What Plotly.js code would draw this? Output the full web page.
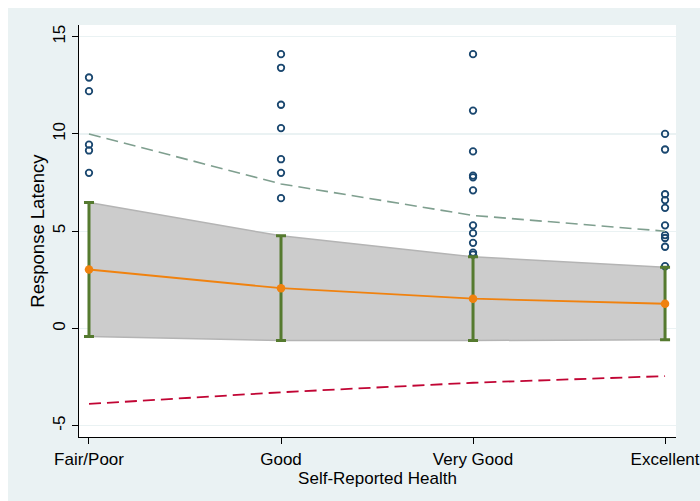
<!DOCTYPE html>
<html>
<head>
<meta charset="utf-8">
<script src="https://cdn.plot.ly/plotly-3.0.1.min.js"></script>
<style>
html,body{margin:0;padding:0;background:#ffffff;width:700px;height:501px;overflow:hidden;}
#chart{position:absolute;left:8px;top:8px;width:692px;height:493px;}
</style>
</head>
<body>
<div id="chart"></div>
<script>
var categories = ["Fair/Poor", "Good", "Very Good", "Excellent"];
var catPos = [1, 2, 3, 4];
var yTickVals = [-5, 0, 5, 10, 15];
var yTickText = ["-5", "0", "5", "10", "15"];

// observed response latencies per category
var obsFair = [12.9, 12.2, 9.45, 9.15, 8.0];
var obsGood = [14.1, 13.4, 11.5, 10.3, 8.7, 8.0, 6.7];
var obsVeryGood = [14.1, 11.2, 9.1, 7.86, 7.77, 7.1, 5.3, 4.9, 4.4, 3.9, 3.8];
var obsExcellent = [10.0, 9.2, 6.9, 6.6, 6.2, 5.3, 4.8, 4.65, 4.2, 3.2];

// predicted mean and confidence interval
var predMean = [3.03, 2.07, 1.53, 1.27];
var ciUpper = [6.48, 4.76, 3.68, 3.15];
var ciLower = [-0.41, -0.62, -0.62, -0.58];

// prediction bounds
var upperBound = [10.0, 7.43, 5.81, 5.0];
var lowerBound = [-3.88, -3.28, -2.79, -2.45];

var obsGroups = [obsFair, obsGood, obsVeryGood, obsExcellent];
var obsX = [], obsY = [];
obsGroups.forEach(function(g, i){
  g.forEach(function(v){ obsX.push(catPos[i]); obsY.push(v); });
});

var errPlus = ciUpper.map(function(u, i){ return u - predMean[i]; });
var errMinus = ciLower.map(function(l, i){ return predMean[i] - l; });

var traces = [
  {x: catPos, y: ciLower, mode: 'lines', line: {color: '#b4b4b4', width: 1.5}, hoverinfo: 'skip', showlegend: false},
  {x: catPos, y: ciUpper, mode: 'lines', fill: 'tonexty', fillcolor: '#cccccc', line: {color: '#b4b4b4', width: 1.5}, hoverinfo: 'skip', showlegend: false},
  {x: obsX, y: obsY, mode: 'markers', marker: {symbol: 'circle-open', size: 6.5, color: '#1a476f', line: {width: 1.8, color: '#1a476f'}}, showlegend: false},
  {x: catPos, y: upperBound, mode: 'lines', line: {color: '#7f9f8f', width: 1.6, dash: '12px,6px'}, showlegend: false},
  {x: catPos, y: lowerBound, mode: 'lines', line: {color: '#c10534', width: 1.8, dash: '12px,6px'}, showlegend: false},
  {x: catPos, y: predMean, mode: 'markers', marker: {size: 1, color: 'rgba(0,0,0,0)'},
   error_y: {type: 'data', symmetric: false, array: errPlus, arrayminus: errMinus, color: '#557a2f', thickness: 3, width: 5}, showlegend: false},
  {x: catPos, y: predMean, mode: 'lines+markers', line: {color: '#f0820f', width: 1.8}, marker: {size: 8.5, color: '#f0820f'}, showlegend: false}
];

var layout = {
  width: 692, height: 493,
  margin: {l: 71, r: 24, t: 17, b: 64},
  paper_bgcolor: '#eaf2f3',
  plot_bgcolor: '#ffffff',
  font: {family: 'Liberation Sans, Arial, sans-serif', size: 17, color: '#000000'},
  xaxis: {
    range: [0.948, 4.057],
    tickvals: catPos, ticktext: categories,
    showgrid: false, zeroline: false,
    showline: true, linecolor: '#000000', linewidth: 1.2,
    ticks: 'outside', ticklen: 6, tickcolor: '#000000', tickwidth: 1,
    title: {text: 'Self-Reported Health', standoff: 0, font: {size: 17}}
  },
  yaxis: {
    range: [-5.58, 15.6],
    tickvals: yTickVals, ticktext: yTickText,
    tickangle: -90,
    showgrid: true, gridcolor: '#eaf2f3', gridwidth: 1.2,
    zeroline: false,
    showline: true, linecolor: '#000000', linewidth: 1.2,
    ticks: 'outside', ticklen: 6, tickcolor: '#000000', tickwidth: 1,
    title: {text: 'Response Latency', standoff: 0, font: {size: 18.5}}
  },
  showlegend: false
};

Plotly.newPlot('chart', traces, layout, {displayModeBar: false, staticPlot: true});
</script>
</body>
</html>
